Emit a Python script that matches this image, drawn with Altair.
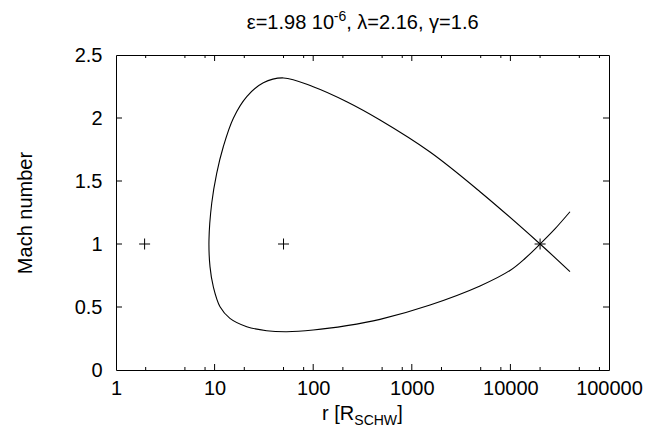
import altair as alt
import pandas as pd

# ---- data ----
curve_r = [40200, 28300, 20000, 14060, 9910, 4920, 1531, 476, 219, 100, 53.9, 33.7, 21.2, 14.3,
           11.35, 9.7, 8.98, 8.77, 9.35, 10.5, 12.25, 15.5, 21.2, 31.2, 50, 100, 219, 476, 1531,
           4920, 20000, 40200]
curve_m = [1.256, 1.12, 1.0, 0.885, 0.79, 0.667, 0.516, 0.402, 0.352, 0.317, 0.304, 0.312, 0.344,
           0.410, 0.502, 0.661, 0.820, 1.032, 1.323, 1.561, 1.772, 1.998, 2.169, 2.280, 2.318,
           2.248, 2.129, 1.984, 1.730, 1.415, 1.0, 0.78]
cross_r = [1.95, 50, 20000]
cross_m = [1.0, 1.0, 1.0]

x_major = [1, 10, 100, 1000, 10000, 100000]
x_minor = [2, 5, 8, 20, 50, 80, 200, 500, 800, 2000, 5000, 8000, 20000, 50000, 80000]
y_major = [0, 0.5, 1, 1.5, 2, 2.5]

title_parts = ["ε=1.98 10", "-6", ", λ=2.16, γ=1.6"]
xlabel_parts = ["r [R", "SCHW", "]"]
ylabel = "Mach number"

W, H = 493, 315
FONT = "Liberation Sans"
FS = 20

xs = alt.Scale(type="log", domain=[1, 100000], nice=False)
ys = alt.Scale(domain=[0, 2.5], nice=False, zero=False)

curve_df = pd.DataFrame({"r": curve_r, "m": curve_m, "o": list(range(len(curve_r)))})
cross_df = pd.DataFrame({"r": cross_r, "m": cross_m})

line = alt.Chart(curve_df).mark_line(
    color="black", strokeWidth=1.1, interpolate="catmull-rom"
).encode(
    x=alt.X("r:Q", scale=xs, axis=alt.Axis(
        values=x_major, format="d", title=None, ticks=False, tickSize=0, domain=False,
        grid=False, labelFont=FONT, labelFontSize=FS, labelColor="black", labelPadding=8,
        labelFlush=False)),
    y=alt.Y("m:Q", scale=ys, axis=alt.Axis(
        values=y_major, format="~g", title=ylabel, ticks=False, tickSize=0, domain=False,
        grid=False, labelFont=FONT, labelFontSize=FS, labelColor="black", labelPadding=14,
        labelFlush=False, titleFont=FONT, titleFontSize=FS, titleFontWeight="normal",
        titleColor="black", titleAngle=-90, titleX=-91, titleY=H / 2, titleBaseline="middle",
        titleAlign="center")),
    order="o:Q",
)

pts = alt.Chart(cross_df).mark_point(
    shape="M-1,0H1M0,-1V1", filled=False, stroke="black", strokeWidth=1, size=121, opacity=1
).encode(x=alt.X("r:Q", scale=xs), y=alt.Y("m:Q", scale=ys))

MAJ, MIN = 6, 3
xmaj_df = pd.DataFrame({"r": x_major[1:-1]})
xmin_df = pd.DataFrame({"r": x_minor})
ymaj_df = pd.DataFrame({"m": y_major[1:-1]})


def xticks(df, ln):
    b = alt.Chart(df).mark_rule(color="black", strokeWidth=1).encode(
        x=alt.X("r:Q", scale=xs), y=alt.value(H), y2=alt.value(H - ln))
    t = alt.Chart(df).mark_rule(color="black", strokeWidth=1).encode(
        x=alt.X("r:Q", scale=xs), y=alt.value(0), y2=alt.value(ln))
    return b + t


yt_l = alt.Chart(ymaj_df).mark_rule(color="black", strokeWidth=1).encode(
    y=alt.Y("m:Q", scale=ys), x=alt.value(0), x2=alt.value(MAJ))
yt_r = alt.Chart(ymaj_df).mark_rule(color="black", strokeWidth=1).encode(
    y=alt.Y("m:Q", scale=ys), x=alt.value(W), x2=alt.value(W - MAJ))

# composite title with superscript
TY = -26
tcx = W / 2
w1 = 87.0
w2 = 12.5
w3 = 132.0
tstart = tcx - (w1 + w2 + w3) / 2
title1 = alt.Chart(pd.DataFrame({"t": [title_parts[0]]})).mark_text(
    font=FONT, fontSize=FS, align="left", baseline="alphabetic", color="black"
).encode(text="t:N", x=alt.value(tstart), y=alt.value(TY))
title2 = alt.Chart(pd.DataFrame({"t": [title_parts[1]]})).mark_text(
    font=FONT, fontSize=14, align="left", baseline="alphabetic", color="black"
).encode(text="t:N", x=alt.value(tstart + w1), y=alt.value(TY - 8))
title3 = alt.Chart(pd.DataFrame({"t": [title_parts[2]]})).mark_text(
    font=FONT, fontSize=FS, align="left", baseline="alphabetic", color="black"
).encode(text="t:N", x=alt.value(tstart + w1 + w2), y=alt.value(TY))

# composite x label with subscript
XY = H + 50
v1, v2, v3 = 32.2, 43.0, 5.6
xstart = tcx - (v1 + v2 + v3) / 2
xl1 = alt.Chart(pd.DataFrame({"t": [xlabel_parts[0]]})).mark_text(
    font=FONT, fontSize=FS, align="left", baseline="alphabetic", color="black"
).encode(text="t:N", x=alt.value(xstart), y=alt.value(XY))
xl2 = alt.Chart(pd.DataFrame({"t": [xlabel_parts[1]]})).mark_text(
    font=FONT, fontSize=14, align="left", baseline="alphabetic", color="black"
).encode(text="t:N", x=alt.value(xstart + v1), y=alt.value(XY + 5))
xl3 = alt.Chart(pd.DataFrame({"t": [xlabel_parts[2]]})).mark_text(
    font=FONT, fontSize=FS, align="left", baseline="alphabetic", color="black"
).encode(text="t:N", x=alt.value(xstart + v1 + v2), y=alt.value(XY))

chart = alt.layer(
    line, pts,
    xticks(xmaj_df, MAJ), xticks(xmin_df, MIN), yt_l, yt_r,
    title1, title2, title3, xl1, xl2, xl3,
).properties(
    width=W, height=H,
    autosize=alt.AutoSizeParams(type="none"),
    padding={"left": 108, "top": 47, "right": 663 - 16 - 108 - W, "bottom": 445 - 16 - 47 - H},
    background="white",
).configure_view(stroke="black", strokeWidth=1)

chart.save("out.html", embed_options={"renderer": "svg", "actions": False})
